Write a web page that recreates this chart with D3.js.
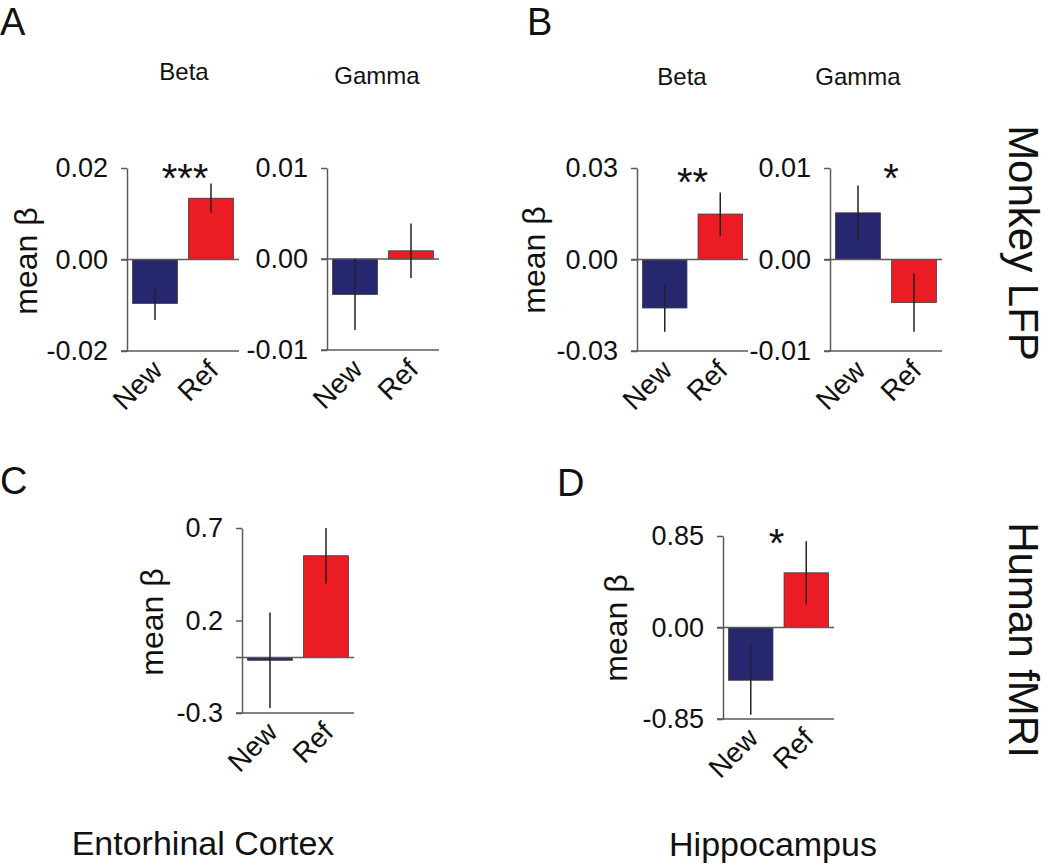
<!DOCTYPE html>
<html>
<head>
<meta charset="utf-8">
<script src="https://cdn.jsdelivr.net/npm/d3@7"></script>
<style>
  html, body { margin: 0; padding: 0; background: #fff; }
  svg { display: block; }
  text { font-family: "Liberation Sans", Arial, Helvetica, sans-serif; fill: #111; }
</style>
</head>
<body>
<svg id="chart" width="1050" height="864"></svg>
<script>
// ---------------- DATA ----------------
const categories = ["New", "Ref"];

const aBetaMeans = [-0.0096, 0.0134];
const aBetaErrors = [0.0036, 0.0032];
const aBetaTicks = [-0.02, 0, 0.02];
const aBetaTickLabels = ["-0.02", "0.00", "0.02"];

const aGammaMeans = [-0.0039, 0.0009];
const aGammaErrors = [0.0039, 0.0030];
const aGammaTicks = [-0.01, 0, 0.01];
const aGammaTickLabels = ["-0.01", "0.00", "0.01"];

const bBetaMeans = [-0.0159, 0.0149];
const bBetaErrors = [0.0078, 0.0071];
const bBetaTicks = [-0.03, 0, 0.03];
const bBetaTickLabels = ["-0.03", "0.00", "0.03"];

const bGammaMeans = [0.0051, -0.0047];
const bGammaErrors = [0.0030, 0.0032];
const bGammaTicks = [-0.01, 0, 0.01];
const bGammaTickLabels = ["-0.01", "0.00", "0.01"];

const cMeans = [-0.015, 0.55];
const cErrors = [0.258, 0.15];
const cTicks = [-0.3, 0.2, 0.7];
const cTickLabels = ["-0.3", "0.2", "0.7"];

const dMeans = [-0.49, 0.508];
const dErrors = [0.32, 0.293];
const dTicks = [-0.85, 0, 0.85];
const dTickLabels = ["-0.85", "0.00", "0.85"];

const panelTitles = ["Beta", "Gamma", "Beta", "Gamma", "", ""];
const panelStars = ["***", "", "**", "*", "", "*"];
const panelLetters = ["A", "B", "C", "D"];
const regionLabels = ["Entorhinal Cortex", "Hippocampus"];
const rowLabels = ["Monkey LFP", "Human fMRI"];
const yAxisTitle = "mean \u03b2";

// ---------------- LAYOUT ----------------
const colors = { New: "#27276f", Ref: "#ec1c24" };
const axisColor = "#5a5a5a";

const panels = [
  { means: aBetaMeans, errs: aBetaErrors, ticks: aBetaTicks, labels: aBetaTickLabels, x0: 127, x1: 239, yTop: 168, yBot: 351, titleX: 184, titleY: 80, starY: 192, starDx: 2, yTitleX: 37, yTitleY: 261 },
  { means: aGammaMeans, errs: aGammaErrors, ticks: aGammaTicks, labels: aGammaTickLabels, x0: 327, x1: 439, yTop: 168, yBot: 350, titleX: 377, titleY: 84 },
  { means: bBetaMeans, errs: bBetaErrors, ticks: bBetaTicks, labels: bBetaTickLabels, x0: 637, x1: 748, yTop: 168, yBot: 351, titleX: 682, titleY: 85, starY: 196, starDx: 0, yTitleX: 545, yTitleY: 260 },
  { means: bGammaMeans, errs: bGammaErrors, ticks: bGammaTicks, labels: bGammaTickLabels, x0: 830, x1: 942, yTop: 168, yBot: 351, titleX: 858, titleY: 85, starY: 192, starDx: 5 },
  { means: cMeans, errs: cErrors, ticks: cTicks, labels: cTickLabels, x0: 242, x1: 354, yTop: 528, yBot: 713, yTitleX: 163, yTitleY: 622 },
  { means: dMeans, errs: dErrors, ticks: dTicks, labels: dTickLabels, x0: 723, x1: 834, yTop: 536, yBot: 719, starY: 557, starDx: -2, yTitleX: 627, yTitleY: 628 }
];

const svg = d3.select("#chart");

panels.forEach((p, pi) => {
  const g = svg.append("g");
  const y = d3.scaleLinear().domain([p.ticks[0], p.ticks[p.ticks.length - 1]]).range([p.yBot, p.yTop]);
  const x = d3.scaleBand().domain(categories).range([p.x0, p.x1]).paddingInner(0.2).paddingOuter(0.1);

  // bars
  g.selectAll("rect.bar").data(categories).join("rect")
    .attr("class", "bar")
    .attr("x", d => x(d))
    .attr("width", x.bandwidth())
    .attr("y", (d, i) => y(Math.max(0, p.means[i])))
    .attr("height", (d, i) => Math.abs(y(p.means[i]) - y(0)))
    .attr("fill", d => colors[d])
    .attr("stroke", "#3a3a3a")
    .attr("stroke-width", 0.8);

  // zero line and bottom line
  g.append("line").attr("x1", p.x0 - 6).attr("x2", p.x1).attr("y1", y(0)).attr("y2", y(0))
    .attr("stroke", axisColor).attr("stroke-width", 1.5);
  g.append("line").attr("x1", p.x0 - 6).attr("x2", p.x1).attr("y1", y(p.ticks[0])).attr("y2", y(p.ticks[0]))
    .attr("stroke", axisColor).attr("stroke-width", 1.5);

  // y axis
  const ax = g.append("g").attr("transform", `translate(${p.x0},0)`)
    .call(d3.axisLeft(y).tickValues(p.ticks).tickFormat((d, i) => p.labels[i]).tickSize(6).tickSizeOuter(0).tickPadding(13));
  ax.select(".domain").attr("stroke", axisColor).attr("stroke-width", 1.5);
  ax.selectAll(".tick line").attr("stroke", axisColor).attr("stroke-width", 1.5);
  ax.selectAll(".tick text").attr("font-size", 27).attr("fill", "#111")
    .attr("font-family", "Liberation Sans, Arial, sans-serif");

  // error bars
  g.selectAll("line.err").data(categories).join("line")
    .attr("class", "err")
    .attr("x1", d => x(d) + x.bandwidth() / 2)
    .attr("x2", d => x(d) + x.bandwidth() / 2)
    .attr("y1", (d, i) => y(p.means[i] - p.errs[i]))
    .attr("y2", (d, i) => y(p.means[i] + p.errs[i]))
    .attr("stroke", "#222").attr("stroke-width", 1.5);

  // x labels
  g.selectAll("text.xl").data(categories).join("text")
    .attr("class", "xl")
    .attr("text-anchor", "end")
    .attr("font-size", 28)
    .attr("transform", d => `translate(${x(d) + x.bandwidth() / 2 + 9},${p.yBot + 21}) rotate(-45)`)
    .text(d => d);

  // title
  if (panelTitles[pi]) {
    g.append("text").attr("x", p.titleX).attr("y", p.titleY)
      .attr("text-anchor", "middle").attr("font-size", 24).text(panelTitles[pi]);
  }
  // stars
  if (panelStars[pi]) {
    const cx = (x("New") + x("Ref") + x.bandwidth()) / 2;
    g.append("text").attr("x", cx + p.starDx).attr("y", p.starY)
      .attr("text-anchor", "middle").attr("font-size", 40).text(panelStars[pi]);
  }
  // y title
  if (p.yTitleX !== undefined) {
    g.append("text").attr("transform", `translate(${p.yTitleX},${p.yTitleY}) rotate(-90)`)
      .attr("text-anchor", "middle").attr("font-size", 32).text(yAxisTitle);
  }
});

// panel letters
const letterPos = [[0, 35], [527, 35], [0, 494], [557, 496]];
panelLetters.forEach((l, i) => {
  svg.append("text").attr("x", letterPos[i][0]).attr("y", letterPos[i][1])
    .attr("font-size", 38).text(l);
});

// region labels
const regionPos = [[203, 855], [773, 856]];
regionLabels.forEach((l, i) => {
  svg.append("text").attr("x", regionPos[i][0]).attr("y", regionPos[i][1])
    .attr("text-anchor", "middle").attr("font-size", 34).text(l);
});

// row labels
const rowPos = [[1009, 243], [1009, 640]];
rowLabels.forEach((l, i) => {
  svg.append("text").attr("transform", `translate(${rowPos[i][0]},${rowPos[i][1]}) rotate(90)`)
    .attr("text-anchor", "middle").attr("font-size", 42).text(l);
});
</script>
</body>
</html>
